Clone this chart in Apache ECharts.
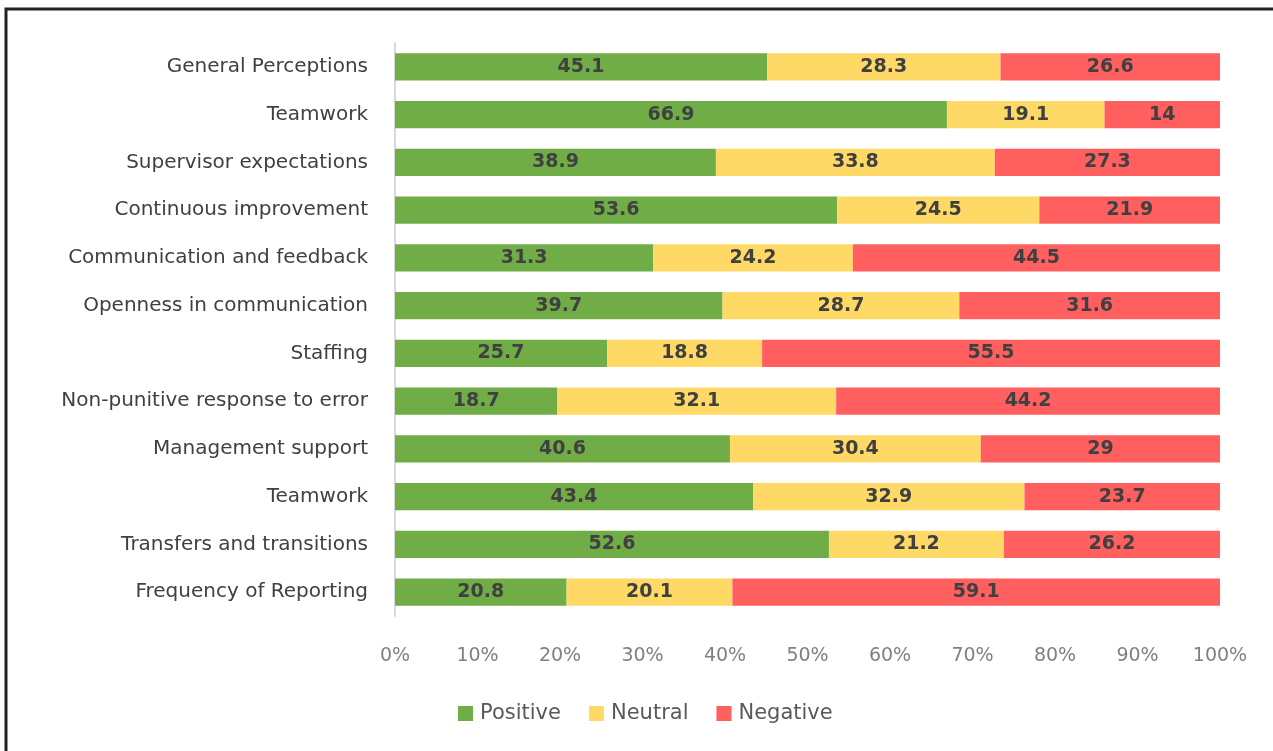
<!DOCTYPE html>
<html>
<head>
<meta charset="utf-8">
<script src="https://cdn.jsdelivr.net/npm/echarts@6/dist/echarts.min.js"></script>
<style>
html,body{margin:0;padding:0;background:#fff;}
#chart{width:1273px;height:751px;}
</style>
</head>
<body>
<div id="chart"></div>
<script>
const categories = [
  "General Perceptions",
  "Teamwork",
  "Supervisor expectations",
  "Continuous improvement",
  "Communication and feedback",
  "Openness in communication",
  "Staffing",
  "Non-punitive response to error",
  "Management support",
  "Teamwork ",
  "Transfers and transitions",
  "Frequency of Reporting"
];
const positive = [45.1, 66.9, 38.9, 53.6, 31.3, 39.7, 25.7, 18.7, 40.6, 43.4, 52.6, 20.8];
const neutral  = [28.3, 19.1, 33.8, 24.5, 24.2, 28.7, 18.8, 32.1, 30.4, 32.9, 21.2, 20.1];
const negative = [26.6, 14, 27.3, 21.9, 44.5, 31.6, 55.5, 44.2, 29, 23.7, 26.2, 59.1];
const seriesNames = ["Positive", "Neutral", "Negative"];
const xTicks = [0, 10, 20, 30, 40, 50, 60, 70, 80, 90, 100];

const raw = [positive, neutral, negative];
const totals = categories.map((_, i) => positive[i] + neutral[i] + negative[i]);
const colors = ["#70AD47", "#FFD966", "#FF5F5F"];

const chart = echarts.init(document.getElementById('chart'));
chart.setOption({
  animation: false,
  backgroundColor: '#fff',
  graphic: [{
    type: 'rect',
    shape: {x: 6, y: 9, width: 1400, height: 900},
    style: {fill: 'none', stroke: '#222', lineWidth: 3},
    silent: true
  }],
  grid: {left: 395, right: 53, top: 43, bottom: 135, containLabel: false},
  legend: {
    data: seriesNames,
    top: 698,
    left: 453,
    itemWidth: 15,
    itemHeight: 15,
    itemGap: 28,
    icon: 'rect',
    textStyle: {fontFamily: 'DejaVu Sans', fontSize: 21, color: '#595959', padding: [0, 0, 0, 2]}
  },
  xAxis: {
    type: 'value',
    min: 0, max: 100, interval: 10,
    axisLine: {show: false},
    axisTick: {show: false},
    splitLine: {show: false},
    axisLabel: {
      formatter: v => xTicks.includes(v) ? v + '%' : '',
      fontFamily: 'DejaVu Sans', fontSize: 19, color: '#808080', margin: 31
    }
  },
  yAxis: {
    type: 'category',
    data: categories,
    inverse: true,
    axisLine: {show: true, lineStyle: {color: '#d9d9d9', width: 2}},
    axisTick: {show: false},
    axisLabel: {
      formatter: v => v.trim(),
      fontFamily: 'DejaVu Sans', fontSize: 20, color: '#404040', margin: 27
    }
  },
  series: raw.map((arr, s) => ({
    name: seriesNames[s],
    type: 'bar',
    stack: 'total',
    barCategoryGap: '43%',
    itemStyle: {color: colors[s]},
    label: {
      show: true,
      position: 'inside',
      fontFamily: 'DejaVu Sans',
      fontWeight: 'bold',
      fontSize: 19,
      color: '#404040',
      formatter: p => String(arr[p.dataIndex])
    },
    data: arr.map((v, i) => v / totals[i] * 100)
  }))
});
</script>
</body>
</html>
